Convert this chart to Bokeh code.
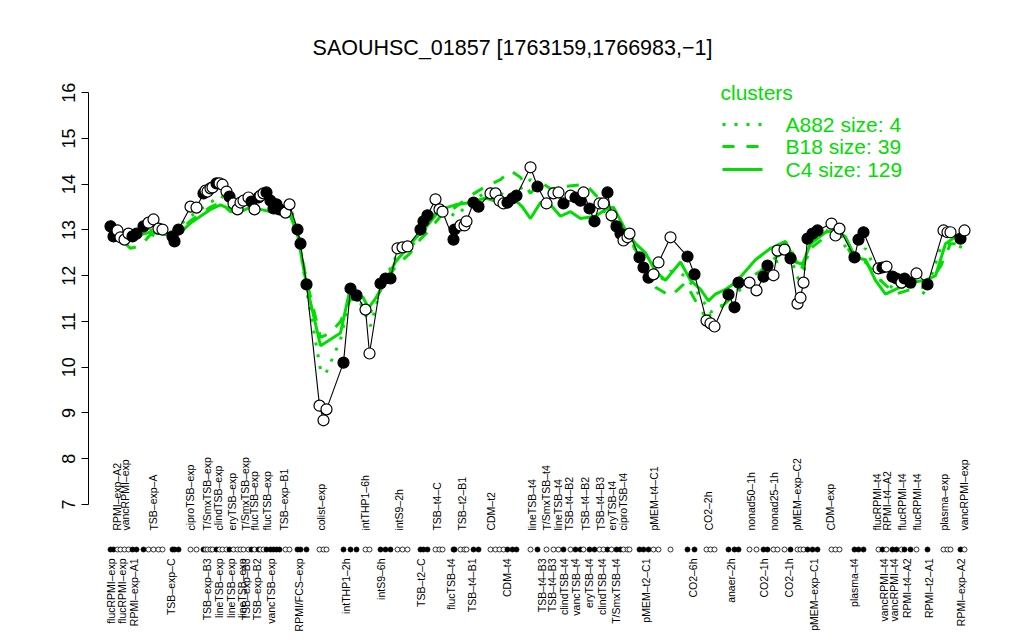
from bokeh.plotting import figure
from bokeh.models import Range1d, LinearAxis, FixedTicker, ColumnDataSource
from bokeh.core.properties import value
from bokeh.embed import file_html
from bokeh.resources import INLINE

FONT = "Liberation Sans"
GREEN = "#00dd00"

# ---- sample positions (with gaps), expression values, fill (1 = black) ----
pos = [0.0, 0.6, 1.4, 2.0, 2.8, 3.6, 4.4, 5.2, 6.6, 7.6, 8.6, 9.6, 10.4, 12.4, 12.8, 13.6,
       16.0, 17.2, 18.6, 19.0, 19.4, 20.0, 20.4, 21.2, 21.8, 22.4, 23.2, 23.8, 24.6, 25.4,
       26.0, 26.6, 27.6, 28.2, 28.8, 29.6, 30.0, 30.6, 31.2, 32.0, 32.6, 33.2, 33.8, 35.0,
       35.8, 37.4, 38.0, 39.2, 41.8, 42.6, 43.2, 46.6, 48.0, 49.2, 51.0, 51.8, 54.0, 55.0,
       56.0, 57.4, 58.4, 59.4, 62.0, 62.6, 63.4, 65.0, 65.8, 66.4, 68.6, 68.8, 70.0, 70.8,
       71.2, 72.6, 73.6, 76.0, 77.0, 77.8, 78.6, 79.4, 80.4, 81.2, 84.0, 85.4, 87.2, 88.6,
       89.6, 90.6, 92.0, 93.0, 94.0, 94.6, 95.8, 96.8, 97.8, 98.6, 99.4, 100.2, 101.2, 102.0,
       102.6, 103.4, 103.8, 105.8, 106.6, 107.6, 108.6, 109.6, 112.0, 115.4, 116.8, 119.2,
       120.0, 120.8, 123.6, 124.8, 125.6, 127.8, 129.2, 130.6, 131.4, 132.6, 133.4, 134.8,
       136.0, 137.4, 138.0, 138.6, 139.4, 140.4, 141.4, 144.2, 145.0, 145.8, 148.8, 149.6,
       150.6, 153.6, 154.4, 155.2, 156.4, 157.2, 158.2, 158.8, 160.0, 161.2, 163.4, 166.6,
       167.4, 168.0, 170.0, 170.8]
expr = [13.08, 12.86, 12.99, 12.84, 12.79, 12.92, 12.86, 12.92, 13.08, 13.16, 13.23, 13.03,
        13.01, 12.86, 12.75, 13.01, 13.51, 13.49, 13.80, 13.86, 13.84, 13.91, 13.93, 14.02,
        14.02, 13.99, 13.84, 13.73, 13.58, 13.45, 13.60, 13.64, 13.71, 13.62, 13.45, 13.71,
        13.75, 13.80, 13.82, 13.64, 13.47, 13.56, 13.45, 13.38, 13.56, 13.01, 12.70, 11.81,
        9.16, 8.84, 9.08, 10.10, 11.72, 11.57, 11.26, 10.30, 11.83, 11.94, 11.94, 12.60,
        12.62, 12.64, 13.01, 13.19, 13.32, 13.67, 13.45, 13.40, 12.79, 13.01, 13.10, 13.10,
        13.19, 13.60, 13.51, 13.80, 13.80, 13.64, 13.58, 13.60, 13.69, 13.75, 14.37, 13.95,
        13.58, 13.80, 13.82, 13.58, 13.75, 13.71, 13.64, 13.82, 13.47, 13.19, 13.58, 13.58,
        13.82, 13.32, 13.08, 12.92, 12.77, 12.84, 12.92, 12.40, 12.18, 11.96, 12.03, 12.29,
        12.84, 12.42, 12.03, 11.02, 10.96, 10.89, 11.59, 11.31, 11.85, 11.85, 11.68, 11.98,
        12.22, 12.01, 12.55, 12.57, 12.38, 11.39, 11.52, 11.85, 12.81, 12.92, 12.99, 13.14,
        12.88, 13.03, 12.40, 12.79, 12.95, 12.16, 12.18, 12.20, 11.98, 11.94, 11.85, 11.94,
        11.85, 12.05, 11.81, 12.99, 12.95, 12.95, 12.81, 12.99]
filled = [1, 1, 0, 0, 0, 0, 1, 1, 1, 0, 0, 0, 0, 1, 1, 1,
          0, 0, 1, 0, 0, 0, 0, 1, 0, 0, 0, 1, 0, 0,
          0, 0, 0, 1, 0, 1, 0, 0, 1, 1, 1, 1, 1, 0,
          0, 1, 1, 1, 0, 0, 0, 1, 1, 1, 0, 0, 1, 1,
          1, 0, 0, 0, 1, 1, 1, 0, 0, 0, 1, 1, 0, 0,
          0, 1, 1, 0, 0, 0, 0, 1, 1, 1, 0, 1, 0, 0,
          0, 1, 0, 1, 1, 0, 1, 1, 0, 0, 1, 0, 1, 1,
          0, 0, 0, 1, 1, 1, 0, 0, 0, 1, 1, 0,
          0, 0, 1, 1, 1, 0, 0, 1, 1, 0, 0, 0,
          1, 0, 0, 0, 1, 1, 1, 0, 0, 0, 1, 1,
          1, 0, 1, 0, 1, 1, 0, 1, 1, 0, 1, 0,
          0, 0, 1, 0]

# ---- cluster mean profiles ----
c4_pos = [0, 2, 4, 6, 8, 11, 14, 16, 18, 20, 22, 24, 26, 28, 30, 32, 34, 36, 37.4, 39.2, 42,
          46, 48, 49.4, 50.4, 51.6, 53, 54.6, 57, 60, 63, 66, 69, 72, 75, 78, 81, 82.4, 84, 86,
          88, 90, 92, 94, 97, 99, 100.6, 103, 105, 107, 109, 111, 114, 116, 118, 119.6, 121,
          123, 125, 127, 129, 132, 135, 137, 138.4, 140, 143, 145, 147, 149, 151, 153, 155,
          157, 160, 163, 165, 167, 169, 171]
c4_val = [13.0, 12.9, 12.8, 12.9, 12.95, 12.9, 12.95, 13.15, 13.3, 13.45, 13.55, 13.45, 13.4,
          13.5, 13.45, 13.4, 13.35, 13.3, 12.9, 11.8, 10.47, 10.75, 11.75, 11.45, 11.55, 11.3,
          11.5, 11.8, 12.3, 12.7, 13.05, 13.45, 13.55, 13.6, 13.7, 13.6, 13.65, 13.5, 13.25,
          13.6, 13.55, 13.3, 13.4, 13.25, 13.3, 13.45, 13.5, 13.0, 12.7, 12.5, 12.1, 11.9,
          12.3, 11.9, 11.7, 11.45, 11.6, 11.7, 11.85, 12.1, 12.35, 12.6, 12.75, 12.3, 12.25,
          12.7, 12.95, 13.0, 12.85, 12.4, 12.35, 11.9, 11.6, 11.7, 11.85, 11.9, 12.0, 12.7,
          12.85, 12.85]
b18_pos = [0, 2, 4, 6, 8, 10, 14, 16, 20, 22, 24, 26, 28, 30, 32, 34, 36, 37.4, 39.2, 42, 44,
           46, 48, 50, 52, 54, 57, 60, 62, 63.4, 66, 69, 72, 75, 78, 80, 82, 84, 86, 88, 91,
           95, 98, 101, 104, 107, 109, 112, 115, 117, 119, 121, 124, 127, 130, 133, 136, 138,
           140, 143, 146, 149, 151, 154, 157, 160, 163, 166, 168, 171]
b18_val = [13.1, 12.8, 12.6, 12.65, 12.9, 12.85, 13.0, 13.2, 13.5, 13.6, 13.4, 13.45, 13.6,
           13.5, 13.45, 13.4, 13.35, 12.95, 11.9, 10.65, 10.75, 11.0, 11.5, 11.4, 11.2, 11.7,
           12.2, 12.5, 12.8, 12.95, 13.3, 13.5, 13.75, 13.95, 14.1, 14.3, 14.15, 13.8, 14.05,
           13.9, 13.95, 14.0, 13.65, 13.3, 12.8, 12.1, 11.75, 11.55, 11.85, 11.45, 11.1, 11.2,
           11.5, 11.9, 12.1, 12.4, 12.6, 12.1, 12.6, 12.85, 12.9, 12.3, 12.3, 11.9, 11.6,
           11.7, 11.75, 12.2, 12.7, 12.7]
a882_pos = [0, 4, 8, 12, 16, 20, 22, 24, 28, 30, 32, 36, 37.4, 39.2, 42, 43, 46, 48, 50, 52,
            54, 57, 60, 63, 66, 69, 72, 76, 80, 84, 86, 90, 94, 98, 101, 104, 107, 110, 112,
            115, 117, 120, 123, 126, 130, 133, 136, 138, 140, 143, 146, 149, 151, 154, 157,
            160, 163, 166, 168, 171]
a882_val = [13.2, 12.8, 13.0, 12.95, 13.3, 13.6, 13.75, 13.6, 13.7, 13.85, 13.7, 13.5, 13.0,
            11.7, 9.95, 9.85, 10.6, 11.6, 11.4, 10.9, 11.7, 12.4, 12.6, 13.1, 13.5, 13.3,
            13.6, 13.9, 13.7, 14.1, 13.9, 13.7, 13.7, 13.5, 13.1, 12.8, 12.0, 11.9, 12.1,
            12.0, 11.7, 11.2, 11.4, 11.7, 11.9, 12.3, 12.4, 11.8, 12.7, 13.0, 12.8, 12.3,
            12.6, 11.9, 11.7, 11.8, 11.6, 12.6, 12.7, 12.6]

# ---- sample labels ----
top_labels = ["RPMI\u2013exp\u2013A2", "vancRPMI\u2013exp", "TSB\u2013exp\u2013A", "ciproTSB\u2013exp",
              "T/SmxTSB\u2013exp", "clindTSB\u2013exp", "eryTSB\u2013exp", "T/SmxTSB\u2013exp",
              "flucTSB\u2013exp", "flucTSB\u2013exp", "TSB\u2013exp\u2013B1", "colist\u2013exp",
              "intTHP1\u20136h", "intS9\u20132h", "TSB\u2013t4\u2013C", "TSB\u2013t2\u2013B1", "CDM\u2013t2",
              "lineTSB\u2013t4", "T/SmxTSB\u2013t4", "lineTSB\u2013t4", "TSB\u2013t4\u2013B2",
              "TSB\u2013t4\u2013B2", "TSB\u2013t4\u2013B3", "eryTSB\u2013t4", "ciproTSB\u2013t4",
              "pMEM\u2013t4\u2013C1", "CO2\u20132h", "nonad50\u20131h", "nonad25\u20131h",
              "pMEM\u2013exp\u2013C2", "CDM\u2013exp", "flucRPMI\u2013t4", "RPMI\u2013t4\u2013A2",
              "flucRPMI\u2013t4", "flucRPMI\u2013t4", "plasma\u2013exp", "vancRPMI\u2013exp"]
top_pos = [1.3, 3.0, 8.6, 16.0, 19.3, 21.6, 24.3, 27.0, 28.8, 31.3, 34.7, 42.1, 51.0, 57.7,
           65.3, 70.3, 76.1, 84.3, 87.2, 89.5, 91.7, 95.0, 98.0, 100.3, 102.5, 108.7, 119.6,
           128.1, 132.7, 137.3, 144.0, 153.3, 155.3, 158.3, 161.3, 166.7, 170.7]
bottom_labels = ["flucRPMI\u2013exp", "flucRPMI\u2013exp", "RPMI\u2013exp\u2013A1", "TSB\u2013exp\u2013C",
                 "TSB\u2013exp\u2013B3", "lineTSB\u2013exp", "lineTSB\u2013exp", "lineTSB\u2013exp",
                 "TSB\u2013exp\u2013B3", "TSB\u2013exp\u2013B2", "vancTSB\u2013exp", "RPMI/FCS\u2013exp",
                 "intTHP1\u20132h", "intS9\u20136h", "TSB\u2013t2\u2013C", "flucTSB\u2013t4",
                 "TSB\u2013t4\u2013B1", "CDM\u2013t4", "TSB\u2013t4\u2013B3", "TSB\u2013t4\u2013B3",
                 "clindTSB\u2013t4", "vancTSB\u2013t4", "eryTSB\u2013t4", "clindTSB\u2013t4",
                 "T/SmxTSB\u2013t4", "pMEM\u2013t2\u2013C1", "CO2\u20136h", "anaer\u20132h", "CO2\u20131h",
                 "CO2\u20131h", "pMEM\u2013exp\u2013C1", "plasma\u2013t4", "vancRPMI\u2013t4",
                 "vancRPMI\u2013t4", "RPMI\u2013t4\u2013A2", "RPMI\u2013t2\u2013A1", "RPMI\u2013exp\u2013A2"]
bottom_pos = [0.0, 2.3, 4.7, 12.0, 19.3, 21.7, 24.0, 26.3, 27.0, 29.3, 32.0, 37.7, 47.0, 54.0,
              62.0, 68.0, 72.3, 79.2, 86.3, 88.3, 90.7, 93.0, 95.7, 98.3, 101.0, 107.0, 116.5,
              124.0, 130.7, 135.7, 140.7, 148.7, 154.7, 156.7, 159.3, 163.7, 170.0]

title_text = "SAOUHSC_01857 [1763159,1766983,\u22121]"
legend_title = "clusters"
legend_names = ["A882 size: 4", "B18 size: 39", "C4 size: 129"]
legend_dash = ["3 9", "12 12", "solid"]

# ---------------------------------------------------------------------------
p = figure(frame_width=928, frame_height=632, output_backend="svg", toolbar_location=None,
           x_range=Range1d(-4.4, 181.2), y_range=Range1d(4.202, 18.016),
           x_axis_type=None, y_axis_type=None,
           min_border_left=88, min_border_right=0, min_border_top=0, min_border_bottom=0)
p.outline_line_color = None
p.xgrid.visible = False
p.ygrid.visible = False
p.background_fill_color = "white"
p.border_fill_color = "white"

yax = LinearAxis(ticker=FixedTicker(ticks=list(range(7, 17))), bounds=(7, 16))
yax.major_tick_out = 7
yax.major_tick_in = 0
yax.minor_tick_line_color = None
yax.axis_line_color = "black"
yax.major_label_text_font = FONT
yax.major_label_text_font_size = "18px"
yax.major_label_text_color = "black"
yax.major_label_standoff = 6
yax.major_label_orientation = "vertical"
p.add_layout(yax, "left")

# cluster lines
p.line(c4_pos, c4_val, line_color=GREEN, line_width=3)
p.line(b18_pos, b18_val, line_color=GREEN, line_width=3, line_dash="12 12")
p.line(a882_pos, a882_val, line_color=GREEN, line_width=3, line_dash="3 9")

# gene profile
colors = ["black" if f else "white" for f in filled]
src = ColumnDataSource(dict(x=pos, y=expr, c=colors, row=[6.016] * len(pos)))
p.line("x", "y", source=src, line_color="black", line_width=1.1)
p.scatter("x", "y", source=src, size=11, fill_color="c", line_color="black", line_width=1.2)
p.scatter("x", "row", source=src, size=5, fill_color="c", line_color="black", line_width=0.8)

# sample labels
p.text(top_pos, [6.43] * len(top_pos), text=top_labels, angle=1.5708,
       text_align="left", text_baseline="middle", text_font=value(FONT),
       text_font_size="10.5px", text_color="black")
p.text(bottom_pos, [5.82] * len(bottom_pos), text=bottom_labels, angle=1.5708,
       text_align="right", text_baseline="middle", text_font=value(FONT),
       text_font_size="10.5px", text_color="black")

# title
p.text([80.4], [16.967], text=[title_text], text_align="center", text_baseline="middle",
       text_font=value(FONT), text_font_size="21.5px", text_color="black")

# legend
p.text([122.0], [16.005], text=[legend_title], text_align="left", text_baseline="middle",
       text_font=value(FONT), text_font_size="21px", text_color=GREEN)
leg_y = [15.306, 14.825, 14.322]
for yy, name, dash in zip(leg_y, legend_names, legend_dash):
    p.line([122.4, 130.4], [yy, yy], line_color=GREEN, line_width=3, line_dash=dash)
    p.text([135.0], [yy], text=[name], text_align="left", text_baseline="middle",
           text_font=value(FONT), text_font_size="21px", text_color=GREEN)

open("out.html", "w").write(file_html(p, INLINE))
